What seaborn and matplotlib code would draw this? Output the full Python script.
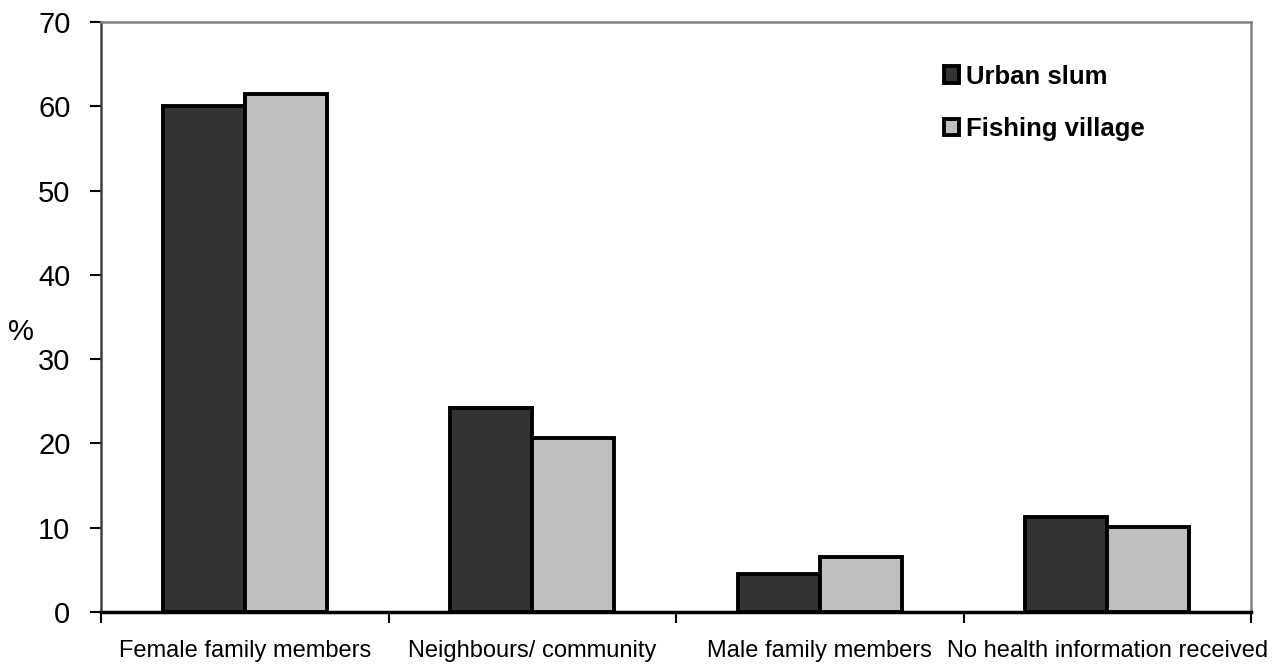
import matplotlib
matplotlib.use("Agg")
import matplotlib.pyplot as plt
import seaborn as sns
import pandas as pd
import numpy as np

categories = ["Female family members", "Neighbours/ community",
              "Male family members", "No health information received"]
urban_slum = [60.0, 24.2, 4.5, 11.3]
fishing_village = [61.5, 20.6, 6.5, 10.1]
series_names = ["Urban slum", "Fishing village"]
y_ticks = [0, 10, 20, 30, 40, 50, 60, 70]

df = pd.DataFrame({
    "category": categories * 2,
    "value": urban_slum + fishing_village,
    "group": [series_names[0]] * len(categories) + [series_names[1]] * len(categories),
})

sns.set_theme(style="white")
plt.rcParams["font.family"] = ["Liberation Sans", "DejaVu Sans"]
plt.rcParams["text.color"] = "black"
plt.rcParams["xtick.color"] = "black"
plt.rcParams["ytick.color"] = "black"

fig = plt.figure(figsize=(12.79, 6.66), dpi=100)
ax = fig.add_axes([101 / 1279, 1 - 612 / 666, 1150 / 1279, 590 / 666])

sns.barplot(data=df, x="category", y="value", hue="group", order=categories,
            hue_order=series_names, palette=["#333333", "#c0c0c0"],
            width=0.57, gap=0, edgecolor="black", linewidth=2.8,
            saturation=1, ax=ax)

ax.set_xlim(-0.5, len(categories) - 0.5)
ax.set_ylim(0, 70)
ax.set_yticks(y_ticks)
ax.set_yticklabels([str(t) for t in y_ticks], fontsize=21)
ax.set_xlabel("")
ax.set_ylabel("")

# category labels centred under groups, tick marks on group boundaries
ax.set_xticks(range(len(categories)))
ax.set_xticklabels(categories, fontsize=17)
ax.set_xticks(np.arange(-0.5, len(categories), 1.0), minor=True)
ax.tick_params(axis="x", which="major", length=0, pad=20, colors="black")
ax.tick_params(axis="x", which="minor", bottom=True, length=8, width=1.5,
               direction="out", color="black")
ax.tick_params(axis="y", which="major", left=True, length=8, width=1.5,
               direction="out", pad=14, color="black", labelcolor="black")

for side in ["top", "right"]:
    ax.spines[side].set_visible(True)
    ax.spines[side].set_color("#808080")
    ax.spines[side].set_linewidth(1.8)
ax.spines["left"].set_color("#404040")
ax.spines["left"].set_linewidth(1.8)
ax.spines["bottom"].set_color("black")
ax.spines["bottom"].set_linewidth(2.5)

fig.text(21 / 1279, 1 - 332 / 666, "%", fontsize=21, ha="center", va="center")

handles, labels = ax.get_legend_handles_labels()
leg = ax.legend(handles, labels, loc="upper left", bbox_to_anchor=(0.713, 0.967),
                frameon=False, prop={"weight": "bold", "size": 18.5},
                handlelength=0.6, handleheight=0.6, handletextpad=0.25,
                labelspacing=1.1)
for t in leg.get_texts():
    t.set_color("black")

fig.savefig("out.png", dpi=100)
